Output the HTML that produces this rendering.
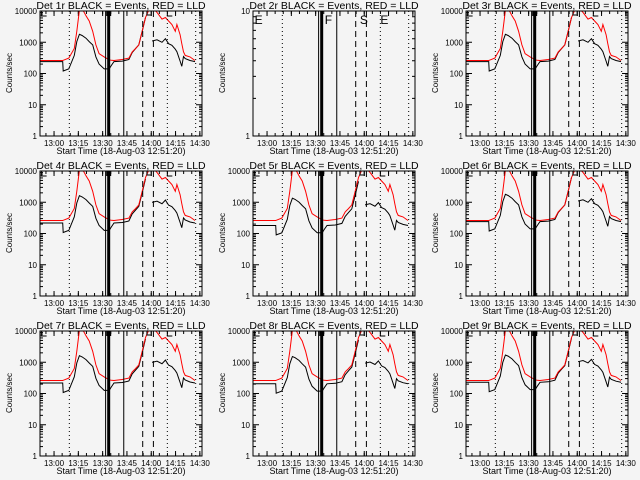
<!DOCTYPE html>
<html><head><meta charset="utf-8"><title>Detector count rates, 18-Aug-03</title>
<style>
html,body{margin:0;padding:0;background:#f4f4f4;}
svg{display:block;font-family:"Liberation Sans",sans-serif;}
</style></head>
<body>
<svg id="fig" width="640" height="480" viewBox="0 0 640 480" xmlns="http://www.w3.org/2000/svg">
<rect x="0" y="0" width="640" height="480" fill="#f4f4f4"/>
</svg>
<script>
// minutes since 12:51:20
const times = [0,14,14.3,17.8,21.2,22.7,24.3,26,28.4,30.4,32.5,34.5,36.5,39.6,42.7,44,45.7,50.8,54.9,56.9,59,61,63.1,65.1,67.1,69.2,72.2,75.3,77.4,79.4,81.4,83.5,84.5,86.5,87.5,88.6,89.6,92.6,95.7];
const redCounts = [260,260,265,310,630,2240,10500,12000,7000,4800,2240,820,430,340,275,265,260,280,310,490,630,820,2240,6200,10500,13000,9000,5500,6200,4800,3700,2240,3700,1750,900,490,380,340,260];
const blackCounts = [240,240,120,140,380,1050,1800,1650,1350,1050,820,340,200,140,140,180,240,250,280,470,630,820,2240,6200,null,1100,1200,1000,1300,900,800,600,500,250,170,350,300,260,240];
const detectors = ["1r","2r","3r","4r","5r","6r","7r","8r","9r"];
const hasData = [true,false,true,true,true,true,true,true,true];
const blackScale = [1,1,1,0.9,0.75,1,0.9,0.85,0.95];
const xTickLabels = ["13:00","13:15","13:30","13:45","14:00","14:15","14:30"];
const xTickTimes = [8.67,23.67,38.67,53.67,68.67,83.67,98.67];
const dottedTimes = [18.1,78.6,96.1];
const solidTimes = [40.5,51.7];
const thickTime = 42.4;
const dashedTimes = [63.4,70.0];
const markerTimes = [1,42.4,66,78.6];
const markerLetters = ["E","F","S","E"];

const NS="http://www.w3.org/2000/svg";
const svg=document.getElementById('fig');
function mk(tag,attrs,parent){const e=document.createElementNS(NS,tag);for(const k in attrs)e.setAttribute(k,attrs[k]);(parent||svg).appendChild(e);return e;}

detectors.forEach((det,i)=>{
  const c=i%3, r=Math.floor(i/3);
  const ox=c*213, oy=r*160;
  const x0=ox+40, x1=ox+202, y0=oy+11, y1=oy+136;
  const T=100;
  const xs=t=>x0+t/T*(x1-x0);
  const decades=hasData[i]?4:1;
  const ys=v=>y1-Math.log10(v)/decades*(y1-y0);
  const g=mk('g',{});
  
  
  const clipId='clip'+i;
  const cp=mk('clipPath',{id:clipId},g);
  mk('rect',{x:x0,y:y0,width:x1-x0,height:y1-y0},cp);

  const title=mk('text',{x:(x0+x1)/2,y:oy+9,'font-size':10.5,'text-anchor':'middle',fill:'#000'},g);
  title.textContent='Det '+det+' BLACK = Events, RED = LLD';
  
  

  const yt=mk('text',{x:0,y:0,'font-size':8,'text-anchor':'middle',fill:'#000',transform:'translate('+(ox+12)+','+(oy+73)+') rotate(-90)'},g);
  yt.textContent='Counts/sec';
  
  

  const xt=mk('text',{x:(x0+x1)/2,y:oy+154,'font-size':9,'text-anchor':'middle',fill:'#000'},g);
  xt.textContent='Start Time (18-Aug-03 12:51:20)';
  
  

  for(let d=0;d<=decades;d++){
    const v=Math.pow(10,d), y=ys(v);
    mk('line',{x1:x0,y1:y,x2:x0+6,y2:y,stroke:'#000','stroke-width':1},g);
    mk('line',{x1:x1,y1:y,x2:x1-6,y2:y,stroke:'#000','stroke-width':1},g);
    const lb=mk('text',{x:x0-3,y:y+3,'font-size':8,'text-anchor':'end',fill:'#000'},g);
    lb.textContent=String(v);
    
    
    if(d<decades){
      for(let m=2;m<=9;m++){
        const ym=ys(m*v);
        mk('line',{x1:x0,y1:ym,x2:x0+3,y2:ym,stroke:'#000','stroke-width':1},g);
        mk('line',{x1:x1,y1:ym,x2:x1-3,y2:ym,stroke:'#000','stroke-width':1},g);
      }
    }
  }
  xTickTimes.forEach((t,k)=>{
    const x=xs(t);
    mk('line',{x1:x,y1:y1,x2:x,y2:y1-5,stroke:'#000'},g);
    mk('line',{x1:x,y1:y0,x2:x,y2:y0+5,stroke:'#000'},g);
    const lb=mk('text',{x:x,y:oy+146,'font-size':8,'text-anchor':'middle',fill:'#000'},g);
    lb.textContent=xTickLabels[k];
    
    
  });
  for(let t=3.67;t<T;t+=5){
    const x=xs(t);
    mk('line',{x1:x,y1:y1,x2:x,y2:y1-3,stroke:'#000'},g);
    mk('line',{x1:x,y1:y0,x2:x,y2:y0+3,stroke:'#000'},g);
  }

  if(hasData[i]){
    const series=[[redCounts,'#ff0000','red-lld-line'],[blackCounts,'#000000','black-events-line']];
    series.slice().reverse().forEach(([arr,col,name])=>{
      let d='',pen=false;
      arr.forEach((v,k)=>{
        if(v===null){pen=false;return;}
        const val=col==='#000000'?Math.max(1,v*blackScale[i]):v;
        d+=(pen?'L':'M')+xs(times[k]).toFixed(1)+' '+ys(val).toFixed(1)+' ';
        pen=true;
      });
      const p=mk('path',{d:d,fill:'none',stroke:col,'stroke-width':1,'clip-path':'url(#'+clipId+')'},g);
      
      
    });
  }

  dottedTimes.forEach(t=>{const l=mk('line',{x1:xs(t),y1:y0,x2:xs(t),y2:y1,stroke:'#000','stroke-dasharray':'1 3'},g);});
  solidTimes.forEach(t=>{const l=mk('line',{x1:xs(t),y1:y0,x2:xs(t),y2:y1,stroke:'#000'},g);});
  dashedTimes.forEach(t=>{const l=mk('line',{x1:xs(t),y1:y0,x2:xs(t),y2:y1,stroke:'#000','stroke-dasharray':'6 4'},g);});
  const th=mk('rect',{x:xs(thickTime)-1.5,y:y0,width:3,height:y1-y0,fill:'#000'},g);
  
  

  if(!hasData[i]){
    markerTimes.forEach((t,k)=>{
      const lt=mk('text',{x:xs(t)+(k===1?3:0),y:y0+13,'font-size':12,fill:'#000'},g);
      lt.textContent=markerLetters[k];
      
      
    });
  } else {
    const th2=mk('rect',{x:xs(thickTime)-2.5,y:y0,width:5,height:5,fill:'#000'},g);
    
    
    [[1,5],[66,4],[78.6,5]].forEach(([t,h])=>{
      const x=xs(t);
      const b=mk('path',{d:'M'+x+' '+y0+' L'+x+' '+(y0+h)+' L'+(x+5)+' '+(y0+h),fill:'none',stroke:'#000'},g);
      
      
    });
  }

  const bx=mk('rect',{x:x0,y:y0,width:x1-x0,height:y1-y0,fill:'none',stroke:'#000','stroke-width':1},g);
  
  
});
</script>
</body></html>
